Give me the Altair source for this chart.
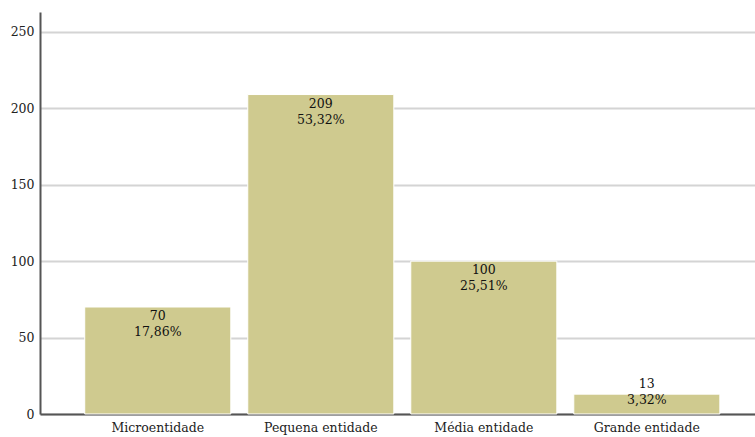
import altair as alt
import pandas as pd

categories = ["Microentidade", "Pequena entidade", "Média entidade", "Grande entidade"]
counts = [70, 209, 100, 13]
percents = ["17,86%", "53,32%", "25,51%", "3,32%"]

df = pd.DataFrame({
    "cat": categories,
    "n": counts,
    "label": [f"{c}\n{p}" for c, p in zip(counts, percents)],
})

FONT = "DejaVu Serif"
FS = 12.5

x = alt.X("cat:N", sort=categories, title=None,
          scale=alt.Scale(paddingInner=0.104, paddingOuter=0.245, align=0.56),
          axis=alt.Axis(labelAngle=0, ticks=False, domainColor="#555555", domainWidth=2,
                        labelFont=FONT, labelFontSize=FS, labelColor="#222222", labelPadding=7))
y = alt.Y("n:Q", title=None,
          scale=alt.Scale(domain=[0, 263], nice=False),
          axis=alt.Axis(values=[0, 50, 100, 150, 200, 250], ticks=False,
                        domainColor="#555555", domainWidth=2,
                        gridColor="#d4d4d4", gridWidth=2,
                        labelFont=FONT, labelFontSize=FS, labelColor="#222222", labelPadding=6))

base = alt.Chart(df)
bars = base.mark_bar(color="#CFCA8F", stroke="white", strokeWidth=1).encode(x=x, y=y)
text_in = base.transform_filter("datum.n >= 30").mark_text(
    baseline="top", dy=3, font=FONT, fontSize=FS, color="#111111",
    lineBreak="\n", lineHeight=16).encode(
    x=alt.X("cat:N", sort=categories), y="n:Q", text="label:N")
text_out = base.transform_filter("datum.n < 30").mark_text(
    baseline="bottom", dy=-3, font=FONT, fontSize=FS, color="#111111",
    lineBreak="\n", lineHeight=16).encode(
    x=alt.X("cat:N", sort=categories), y="n:Q", text="label:N")

chart = (bars + text_in + text_out).properties(
    width=715, height=402,
    autosize=alt.AutoSizeParams(type="none"),
    padding={"left": 40, "top": 12, "right": 0, "bottom": 23},
).configure(background="white").configure_view(stroke=None)

chart.save("out.html", embed_options={"renderer": "svg", "actions": False})
